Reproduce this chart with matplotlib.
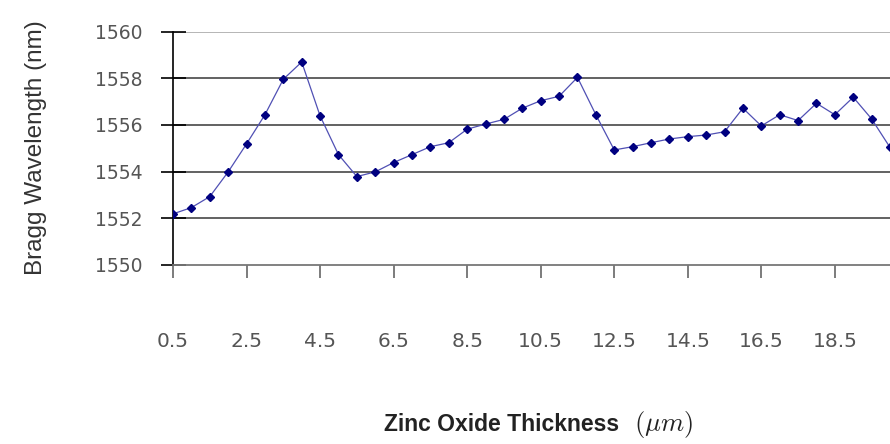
import matplotlib.pyplot as plt

# zinc oxide thickness (um) and measured bragg wavelength (nm)
thickness = [0.5, 1.0, 1.5, 2.0, 2.5, 3.0, 3.5, 4.0, 4.5, 5.0,
             5.5, 6.0, 6.5, 7.0, 7.5, 8.0, 8.5, 9.0, 9.5, 10.0,
             10.5, 11.0, 11.5, 12.0, 12.5, 13.0, 13.5, 14.0, 14.5, 15.0,
             15.5, 16.0, 16.5, 17.0, 17.5, 18.0, 18.5, 19.0, 19.5, 20.0]
wavelength = [1552.19, 1552.46, 1552.93, 1553.99, 1555.19, 1556.44, 1557.96, 1558.70, 1556.39, 1554.73,
              1553.79, 1553.99, 1554.39, 1554.73, 1555.07, 1555.24, 1555.82, 1556.04, 1556.24, 1556.72,
              1557.04, 1557.23, 1558.04, 1556.44, 1554.93, 1555.07, 1555.24, 1555.40, 1555.50, 1555.57,
              1555.71, 1556.72, 1555.96, 1556.44, 1556.19, 1556.93, 1556.44, 1557.19, 1556.26, 1555.04]
xticks = [0.5, 2.5, 4.5, 6.5, 8.5, 10.5, 12.5, 14.5, 16.5, 18.5]
yticks = [1550, 1552, 1554, 1556, 1558, 1560]

plt.rcParams['font.family'] = ['Liberation Sans', 'DejaVu Sans']

fig = plt.figure(figsize=(8.9, 4.44), dpi=100)
ax = fig.add_axes([0.1944, 0.4032, 0.8056, 0.5255])

# horizontal grid lines
for v in yticks[1:]:
    c = '#b0b0b0' if v == 1560 else '#555555'
    ax.axhline(v, color=c, lw=1.3, zorder=1)

ax.plot(thickness, wavelength, color='#5050b4', lw=0.9, marker='D',
        markersize=4.5, markerfacecolor='#000080', markeredgecolor='#000080', zorder=3)

ax.set_xlim(0.5, 20.0)
ax.set_ylim(1550, 1560)
ax.set_xticks(xticks)
ax.set_xticklabels([str(t) for t in xticks])
ax.set_yticks(yticks)

for s in ['top', 'right']:
    ax.spines[s].set_visible(False)
ax.spines['left'].set_color('black')
ax.spines['left'].set_linewidth(1.2)
ax.spines['bottom'].set_color('#777777')
ax.spines['bottom'].set_linewidth(1.3)

ax.tick_params(axis='y', direction='inout', length=18, width=1.2, color='black',
               labelsize=13.5, labelcolor='#555555', pad=13)
ax.tick_params(axis='x', direction='out', length=9, width=1.2, color='#666666',
               labelsize=14.5, labelcolor='#555555', pad=39)
for lab in ax.get_xticklabels() + ax.get_yticklabels():
    lab.set_family('DejaVu Sans')

fig.text(0.0404, 0.667, 'Bragg Wavelength (nm)', fontsize=17.5, color='#333333',
         rotation=90, ha='center', va='center')
fig.text(0.5635, 0.045, 'Zinc Oxide Thickness', fontsize=16.5, fontweight='bold',
         color='#222222', ha='center', va='center')
fig.text(0.746, 0.045, r'$(\mu m)$', fontsize=19, color='#222222', ha='center', va='center',
         math_fontfamily='cm')

fig.savefig('out.png', dpi=100)
